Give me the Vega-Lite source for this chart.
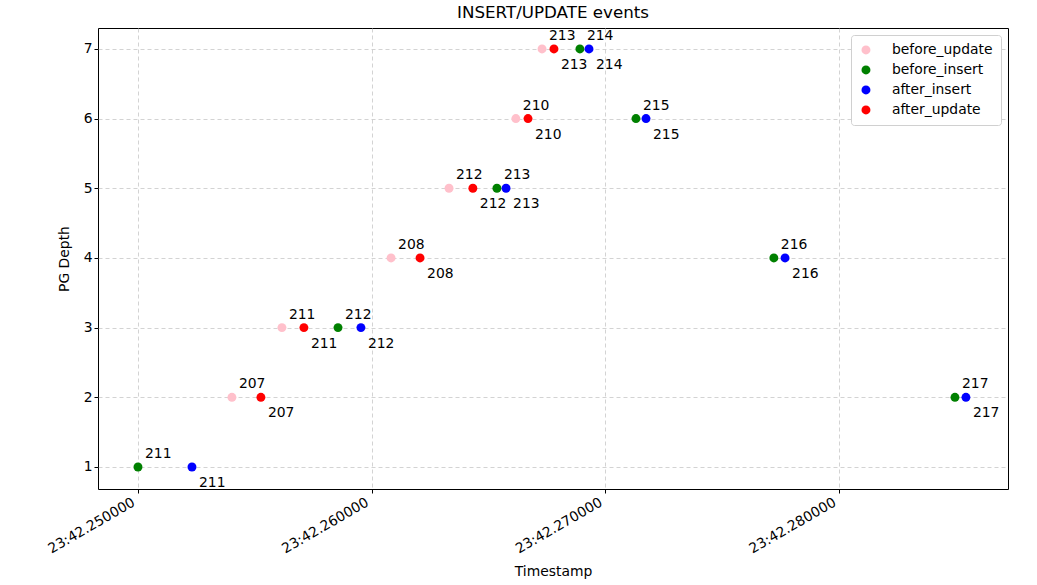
{
  "$schema": "https://vega.github.io/schema/vega-lite/v6.json",
  "width": 910,
  "height": 461,
  "autosize": "none",
  "padding": {"left": 98, "top": 28, "right": 29, "bottom": 96},
  "background": "white",
  "title": {"text": "INSERT/UPDATE events", "fontSize": 16.7, "fontWeight": "normal", "font": "DejaVu Sans", "color": "#000000", "offset": 6},
  "config": {
    "font": "DejaVu Sans",
    "view": {"stroke": "#000000", "strokeWidth": 1},
    "axis": {
      "domain": false,
      "grid": true,
      "gridColor": "#c8c8c8",
      "gridDash": [4, 3],
      "gridWidth": 0.8,
      "tickColor": "#000000",
      "tickSize": 4,
      "labelFontSize": 13.9,
      "labelColor": "#000000",
      "titleFontSize": 13.9,
      "titleFontWeight": "normal",
      "titleColor": "#000000"
    },
    "legend": {"labelFontSize": 13.9, "labelColor": "#000000"}
  },
  "data": {
    "values": [
      {"event": "before_update", "depth": 2, "second": 42.25402, "value": 207},
      {"event": "before_update", "depth": 3, "second": 42.25616, "value": 211},
      {"event": "before_update", "depth": 4, "second": 42.26083, "value": 208},
      {"event": "before_update", "depth": 5, "second": 42.26331, "value": 212},
      {"event": "before_update", "depth": 6, "second": 42.26617, "value": 210},
      {"event": "before_update", "depth": 7, "second": 42.26729, "value": 213},
      {"event": "before_insert", "depth": 1, "second": 42.25, "value": 211},
      {"event": "before_insert", "depth": 3, "second": 42.25856, "value": 212},
      {"event": "before_insert", "depth": 5, "second": 42.26536, "value": 213},
      {"event": "before_insert", "depth": 7, "second": 42.26891, "value": 214},
      {"event": "before_insert", "depth": 6, "second": 42.27131, "value": 215},
      {"event": "before_insert", "depth": 4, "second": 42.27721, "value": 216},
      {"event": "before_insert", "depth": 2, "second": 42.28496, "value": 217},
      {"event": "after_insert", "depth": 1, "second": 42.25231, "value": 211},
      {"event": "after_insert", "depth": 3, "second": 42.25954, "value": 212},
      {"event": "after_insert", "depth": 5, "second": 42.26575, "value": 213},
      {"event": "after_insert", "depth": 7, "second": 42.2693, "value": 214},
      {"event": "after_insert", "depth": 6, "second": 42.27174, "value": 215},
      {"event": "after_insert", "depth": 4, "second": 42.27769, "value": 216},
      {"event": "after_insert", "depth": 2, "second": 42.28543, "value": 217},
      {"event": "after_update", "depth": 2, "second": 42.25526, "value": 207},
      {"event": "after_update", "depth": 3, "second": 42.2571, "value": 211},
      {"event": "after_update", "depth": 4, "second": 42.26207, "value": 208},
      {"event": "after_update", "depth": 5, "second": 42.26433, "value": 212},
      {"event": "after_update", "depth": 6, "second": 42.26669, "value": 210},
      {"event": "after_update", "depth": 7, "second": 42.2678, "value": 213}
    ]
  },
  "encoding": {
    "x": {
      "field": "second",
      "type": "quantitative",
      "title": "Timestamp",
      "scale": {"domain": [42.248289, 42.28723], "nice": false, "zero": false},
      "axis": {
        "values": [42.25, 42.26, 42.27, 42.28],
        "labelExpr": "'23:' + format(datum.value, '09.6f')",
        "labelAngle": -30,
        "labelAlign": "right",
        "labelBaseline": "top",
        "labelPadding": 2,
        "labelOffset": -8,
        "titlePadding": 9
      }
    },
    "y": {
      "field": "depth",
      "type": "quantitative",
      "title": "PG Depth",
      "scale": {"domain": [0.684, 7.3], "nice": false, "zero": false},
      "axis": {"values": [1, 2, 3, 4, 5, 6, 7], "titlePadding": 12}
    }
  },
  "layer": [
    {
      "mark": {"type": "point", "filled": true, "size": 80, "opacity": 1},
      "encoding": {
        "color": {
          "field": "event",
          "type": "nominal",
          "scale": {"domain": ["before_update", "before_insert", "after_insert", "after_update"], "range": ["#ffc0cb", "#008000", "#0000ff", "#ff0000"]},
          "legend": {
            "title": null,
            "orient": "top-right",
            "offset": 7,
            "padding": 8,
            "fillColor": "#ffffff",
            "strokeColor": "#d0d0d0",
            "cornerRadius": 3,
            "symbolType": "circle",
            "symbolSize": 80,
            "rowPadding": 5,
            "labelOffset": 19
          }
        }
      }
    },
    {
      "transform": [{"filter": "indexof(datum.event, 'before') == 0"}],
      "mark": {"type": "text", "align": "left", "baseline": "middle", "dx": 7, "dy": -13, "fontSize": 13.9, "color": "#000000"},
      "encoding": {"text": {"field": "value", "type": "nominal"}}
    },
    {
      "transform": [{"filter": "indexof(datum.event, 'after') == 0"}],
      "mark": {"type": "text", "align": "left", "baseline": "middle", "dx": 7, "dy": 16, "fontSize": 13.9, "color": "#000000"},
      "encoding": {"text": {"field": "value", "type": "nominal"}}
    }
  ]
}
